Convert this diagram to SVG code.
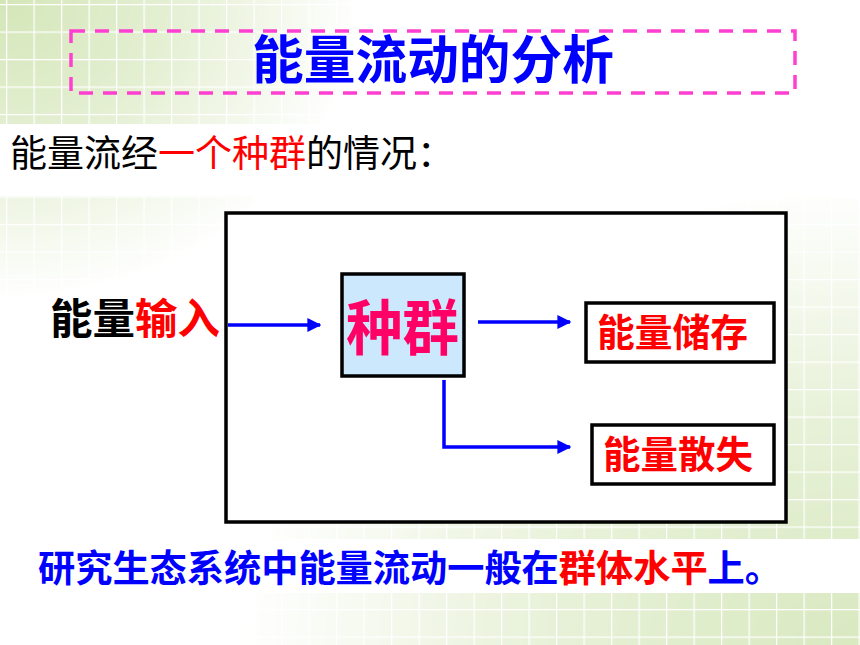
<svg xmlns="http://www.w3.org/2000/svg" width="860" height="645" viewBox="0 0 860 645">
<defs>
<pattern id="grid" width="27.5" height="27.5" patternUnits="userSpaceOnUse" x="6" y="4">
<rect width="27.5" height="27.5" fill="#d4e6b8"/>
<path d="M0 0H27.5M0 0V27.5" stroke="#ffffff" stroke-width="2.5" fill="none"/>
</pattern>
<radialGradient id="fadeTL" cx="0" cy="0" r="1" gradientUnits="userSpaceOnUse" gradientTransform="translate(0,0) scale(360,300)">
<stop offset="0" stop-color="#fff" stop-opacity="1"/>
<stop offset="0.5" stop-color="#fff" stop-opacity="0.6"/>
<stop offset="1" stop-color="#fff" stop-opacity="0"/>
</radialGradient>
<radialGradient id="fadeBR" cx="0" cy="0" r="1" gradientUnits="userSpaceOnUse" gradientTransform="translate(860,645) scale(620,460)">
<stop offset="0" stop-color="#fff" stop-opacity="0.9"/>
<stop offset="0.5" stop-color="#fff" stop-opacity="0.55"/>
<stop offset="1" stop-color="#fff" stop-opacity="0"/>
</radialGradient>
<mask id="bgmask">
<rect width="860" height="645" fill="#000"/>
<rect width="860" height="645" fill="url(#fadeTL)"/>
<rect width="860" height="645" fill="url(#fadeBR)"/>
</mask>
<marker id="arrow" viewBox="0 0 10 10" refX="9" refY="5" markerWidth="4" markerHeight="4" orient="auto" markerUnits="strokeWidth">
<path d="M0 0L10 5L0 10z" fill="#0000ff"/>
</marker>
</defs>
<style>
.cjk{font-family:"Noto Sans CJK SC","Noto Sans CJK JP",sans-serif}
.b{font-weight:bold}
.box{fill:#ffffff;stroke:#000000;stroke-width:3.5}
.red{fill:#ff0000}
.blue{fill:#0000ff}
.conn{stroke:#0000ff;stroke-width:3.5;fill:none}
</style>
<rect width="860" height="645" fill="#ffffff"/>
<rect width="860" height="645" fill="url(#grid)" mask="url(#bgmask)"/>
<rect x="0" y="124" width="860" height="72" fill="#ffffff"/>
<rect x="0" y="539" width="860" height="54" fill="#ffffff"/>

<g id="title">
<rect x="71" y="31" width="724" height="62" fill="none" stroke="#ff3fcf" stroke-width="3.5" stroke-dasharray="14 10"/>
<text class="cjk b blue" x="252" y="79" font-size="52" textLength="362" lengthAdjust="spacingAndGlyphs">能量流动的分析</text>
</g>

<g id="subtitle">
<text class="cjk" x="10" y="167" font-size="37" fill="#000">能量流经<tspan class="red">一个种群</tspan>的情况：</text>
</g>

<g id="frame">
<rect x="226" y="213" width="560" height="309" fill="#ffffff" stroke="#000" stroke-width="3.5"/>
</g>

<g id="input">
<text class="cjk b" x="50" y="334" font-size="42" fill="#000" textLength="170" lengthAdjust="spacingAndGlyphs">能量<tspan class="red">输入</tspan></text>
</g>

<g id="population">
<rect x="342" y="274" width="122" height="102" fill="#cce8fc" stroke="#000" stroke-width="3.5"/>
<text class="cjk b" x="346" y="350" font-size="60" fill="#ff0066" textLength="113" lengthAdjust="spacingAndGlyphs">种群</text>
</g>

<g id="storage">
<rect x="586" y="303" width="188" height="59" class="box"/>
<text class="cjk b red" x="597" y="346" font-size="38" textLength="151" lengthAdjust="spacingAndGlyphs">能量储存</text>
</g>

<g id="loss">
<rect x="592" y="425" width="182" height="59" class="box"/>
<text class="cjk b red" x="603" y="468" font-size="38" textLength="150" lengthAdjust="spacingAndGlyphs">能量散失</text>
</g>

<g id="connectors">
<path class="conn" d="M228 325H320" marker-end="url(#arrow)"/>
<path class="conn" d="M478 322H570" marker-end="url(#arrow)"/>
<path class="conn" d="M444 380V447H570" marker-end="url(#arrow)"/>
</g>

<g id="conclusion">
<text class="cjk b blue" x="38" y="582" font-size="37" textLength="744" lengthAdjust="spacingAndGlyphs">研究生态系统中能量流动一般在<tspan class="red">群体水平</tspan>上。</text>
</g>
</svg>
